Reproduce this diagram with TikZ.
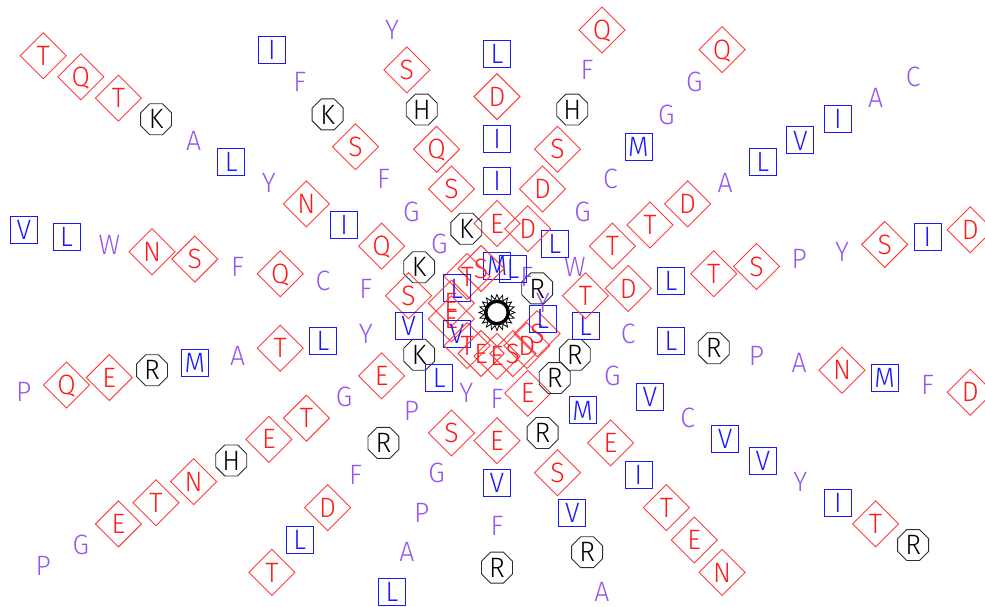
\documentclass[tikz,border=0pt]{standalone}
\usepackage{fontspec}
\setmainfont{Fira Sans}[UprightFont={* Light}, FakeStretch=0.95]
\usetikzlibrary{shapes.geometric}
\definecolor{rtxt}{RGB}{255,25,25}
\definecolor{rline}{RGB}{255,60,60}
\definecolor{btxt}{RGB}{25,25,255}
\definecolor{ptxt}{RGB}{150,85,235}
\definecolor{kline}{RGB}{45,45,45}
\tikzset{
  base/.style={inner sep=0pt, outer sep=0pt, text height=19.3pt, text depth=0pt,
    font=\fontsize{28}{28}\selectfont, line width=0.9pt},
  hphil/.style={base, diamond, aspect=1, draw=rline, text=rtxt, minimum width=46pt, minimum height=46pt},
  hphob/.style={base, rectangle, draw=btxt, text=btxt, minimum size=27pt},
  charged/.style={base, regular polygon, regular polygon sides=8,
    draw=kline, text=black, minimum size=33.5pt},
  other/.style={base, text=ptxt},
  res D/.style={hphil}, res E/.style={hphil}, res N/.style={hphil},
  res Q/.style={hphil}, res S/.style={hphil}, res T/.style={hphil},
  res I/.style={hphob}, res L/.style={hphob}, res M/.style={hphob}, res V/.style={hphob},
  res K/.style={charged}, res R/.style={charged}, res H/.style={charged},
  res A/.style={other}, res C/.style={other}, res F/.style={other}, res G/.style={other},
  res P/.style={other}, res W/.style={other}, res Y/.style={other},
}
\newcommand\Res[3]{%
  \pgfmathsetmacro\rrad{3+43.15*#2}%
  \pgfmathsetmacro\rdx{1.006*\rrad*cos(#1)}%
  \pgfmathsetmacro\rdy{0.98*\rrad*sin(#1)}%
  \node[res #3] (n#1r#2) at ([shift={(\rdx pt,\rdy pt)}]C) {#3};}
\newcommand\Spoke[2]{%
  \foreach \lt [count=\ri] in {#2} {\Res{#1}{\ri}{\lt}}}
\begin{document}
\begin{tikzpicture}
\useasboundingbox (0,-607pt) rectangle (985pt,0);
\clip (0,-607pt) rectangle (985pt,0);
\coordinate (C) at (497pt,-311pt);
\coordinate (Cstar) at (497pt,-312.5pt);
% core
\node[star, star points=20, star point ratio=1.38, minimum size=36pt, inner sep=0pt,
  draw=black, line width=0.8pt] (core) at (Cstar) {};
\node[circle, draw=black, line width=3.5pt, minimum size=22.5pt, inner sep=0pt] (corering) at (Cstar) {};
% spokes
\Spoke{90}{M,E,I,I,D,L}
\Spoke{110}{S,K,S,Q,H,S,Y}
\Spoke{130}{T,G,G,F,S,K,F,I}
\Spoke{150}{L,K,Q,I,N,Y,L,A,K,T,Q,T}
\Spoke{170}{E,S,F,C,Q,F,S,N,W,L,V}
\Spoke{190}{E,V,Y,L,T,A,M,R,E,Q,P}
\Spoke{210}{V,K,E,G,T,E,H,N,T,E,G,P}
\Spoke{230}{T,L,P,R,F,D,L,T}
\Spoke{250}{E,Y,S,G,P,A,L}
\Spoke{270}{E,F,E,V,F,R}
\Spoke{290}{S,E,R,S,V,R,A}
\Spoke{310}{D,R,M,E,I,T,E,N}
\Spoke{330}{S,R,G,V,C,V,V,Y,I,T,R}
\Spoke{350}{L,L,C,L,R,P,A,N,M,F,D}
\Spoke{10}{Y,T,D,L,T,S,P,Y,S,I,D}
\Spoke{30}{R,W,T,T,D,A,L,V,I,A,C}
\Spoke{50}{F,L,G,C,M,G,G,Q}
\Spoke{70}{L,D,D,S,H,F,Q}
\end{tikzpicture}
\end{document}
